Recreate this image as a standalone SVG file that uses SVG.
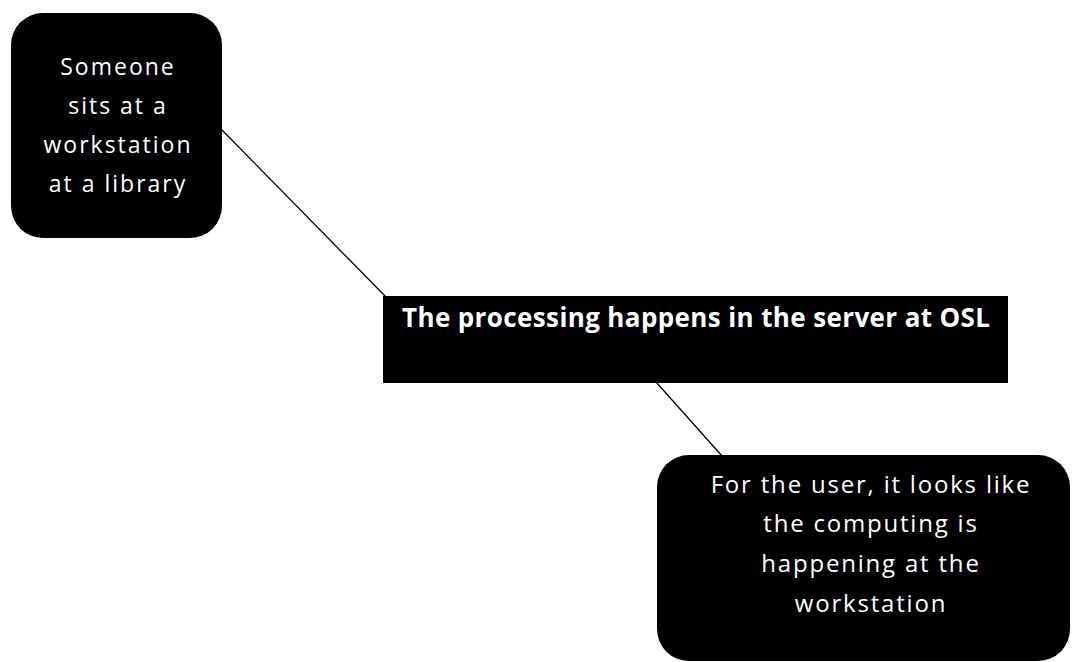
<svg xmlns="http://www.w3.org/2000/svg" width="1072" height="662" viewBox="0 0 1072 662">
<style>
.box{fill:#000;}
.t{fill:#fff;font-family:"Open Sans","Liberation Sans",sans-serif;font-size:23px;letter-spacing:2px;text-anchor:middle;}
.t3{fill:#fff;font-family:"Open Sans","Liberation Sans",sans-serif;font-size:24px;letter-spacing:1.8px;text-anchor:middle;}
.tb{fill:#fff;font-family:"Open Sans","Liberation Sans",sans-serif;font-size:26px;font-weight:bold;text-anchor:middle;}
.c{stroke:#000;stroke-width:1.3;fill:none;}
</style>
<rect width="1072" height="662" fill="#fff"/>
<g id="connectors">
<line class="c" x1="222" y1="130" x2="386" y2="297"/>
<line class="c" x1="656" y1="382" x2="722" y2="456"/>
</g>
<g id="node-workstation">
<rect class="box" x="11" y="13" width="211" height="225" rx="32"/>
<text class="t" x="118" y="75">Someone</text>
<text class="t" x="118" y="114">sits at a</text>
<text class="t" x="118" y="153">workstation</text>
<text class="t" x="118" y="192">at a library</text>
</g>
<g id="node-server">
<rect class="box" x="383" y="296" width="625" height="87"/>
<text class="tb" x="696" y="327" textLength="588" lengthAdjust="spacing">The processing happens in the server at OSL</text>
</g>
<g id="node-user">
<rect class="box" x="657" y="455" width="413" height="206" rx="32"/>
<text class="t3" x="871" y="493">For the user, it looks like</text>
<text class="t3" x="871" y="532">the computing is</text>
<text class="t3" x="871" y="572">happening at the</text>
<text class="t3" x="871" y="612">workstation</text>
</g>
</svg>
